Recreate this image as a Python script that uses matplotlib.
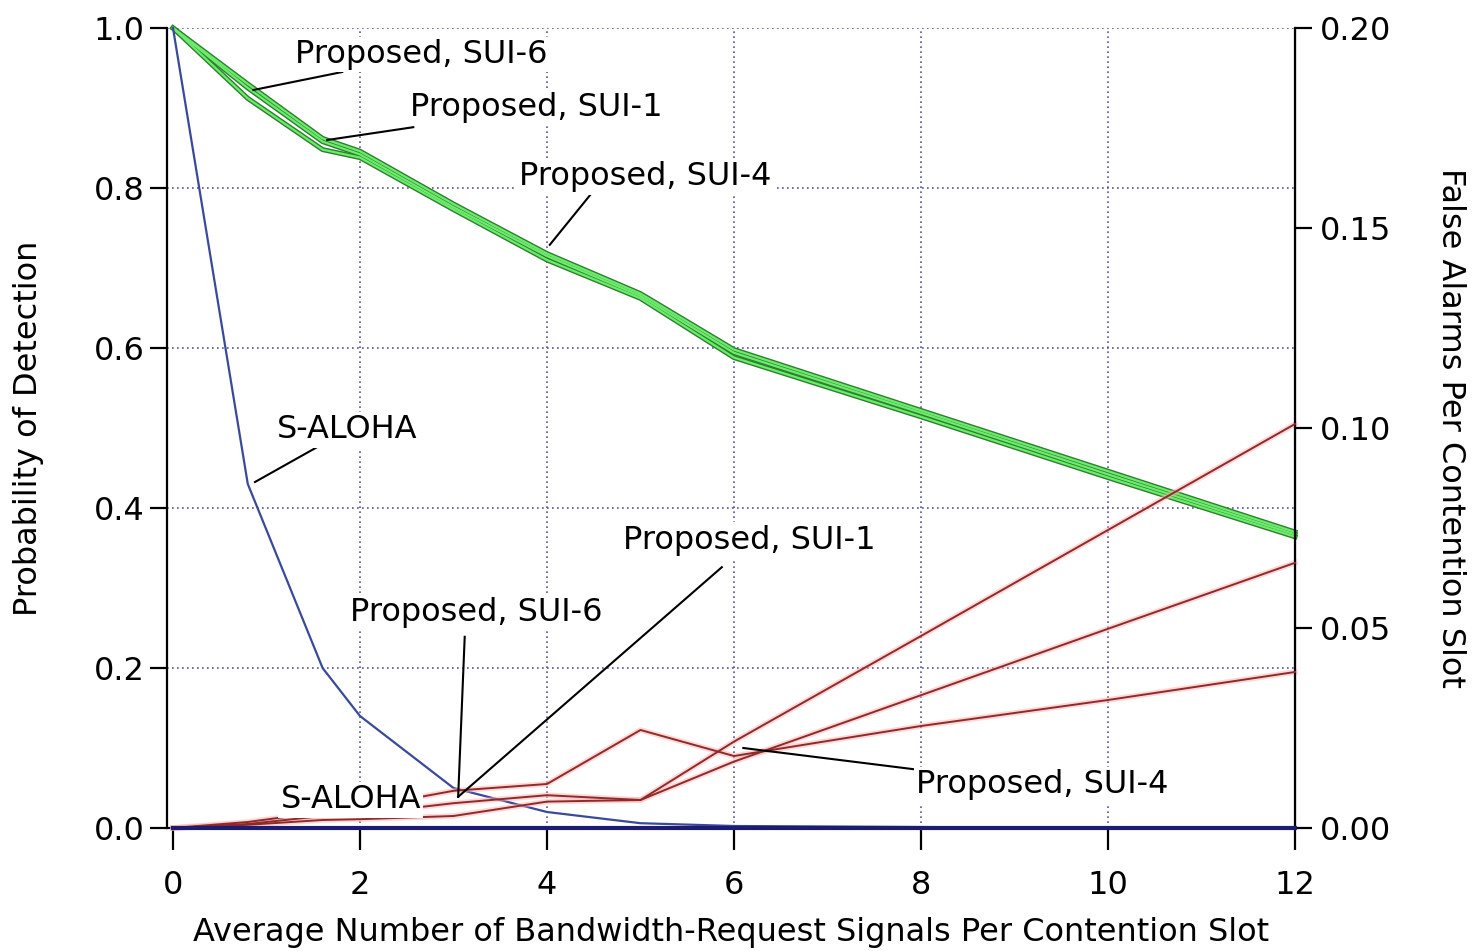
import matplotlib
matplotlib.use("Agg")
import matplotlib.pyplot as plt

# offered load (average number of BR signals per contention slot)
load = [0, 0.8, 1.6, 2, 3, 4, 5, 6, 8, 10, 12]

# probability of detection (left axis)
pd_sui1 = [1.0, 0.930, 0.862, 0.846, 0.780, 0.718, 0.668, 0.598, 0.522, 0.446, 0.370]
pd_sui4 = [1.0, 0.925, 0.858, 0.842, 0.776, 0.715, 0.665, 0.594, 0.519, 0.442, 0.367]
pd_sui6 = [1.0, 0.912, 0.848, 0.838, 0.773, 0.710, 0.662, 0.588, 0.514, 0.438, 0.364]
pd_aloha = [1.0, 0.43, 0.20, 0.14, 0.05, 0.02, 0.006, 0.0025, 0.0012, 0.0, 0.0]

# false alarms per contention slot (right axis)
fa_sui1 = [0, 0.0010, 0.0030, 0.0035, 0.0062, 0.0082, 0.0070, 0.0216, 0.0480, 0.0745, 0.1010]
fa_sui4 = [0, 0.0015, 0.0040, 0.0050, 0.0093, 0.0110, 0.0245, 0.0180, 0.0255, 0.0320, 0.0390]
fa_sui6 = [0, 0.0008, 0.0020, 0.0022, 0.0030, 0.0066, 0.0070, 0.0166, 0.0332, 0.0498, 0.0663]
fa_aloha = [0, 0, 0, 0, 0, 0, 0, 0, 0, 0, 0]

xticks = [0, 2, 4, 6, 8, 10, 12]
left_ticks = [0.0, 0.2, 0.4, 0.6, 0.8, 1.0]
right_ticks = [0.0, 0.05, 0.10, 0.15, 0.20]

plt.rcParams["font.family"] = ["DejaVu Sans"]

fig = plt.figure(figsize=(14.76, 9.51), dpi=100)
fig.patch.set_facecolor("white")
ax = fig.add_axes([167 / 1476, 1 - 828 / 951, (1295 - 167) / 1476, 800 / 951])
ax2 = ax.twinx()

ax.set_xlim(-0.064, 12)
ax.set_ylim(0, 1.0)
ax2.set_ylim(0, 0.20)

# grid
ax.set_axisbelow(True)
for gx in [2, 4, 6, 8, 10]:
    ax.axvline(gx, color="#55559a", lw=1.2, ls=(0, (1, 2)), zorder=0)
for gy in [0.2, 0.4, 0.6, 0.8, 1.0]:
    ax.axhline(gy, color="#55559a", lw=1.2, ls=(0, (1, 2)), zorder=0)

# detection curves
for series in [pd_sui1, pd_sui4, pd_sui6]:
    ax.plot(load, series, color="#2e7f2e", lw=3.6, zorder=3, clip_on=False)
for series in [pd_sui1, pd_sui4, pd_sui6]:
    ax.plot(load, series, color="#6cec6c", lw=1.6, zorder=4, clip_on=False)
ax.plot(load, pd_aloha, color="#3a4a9a", lw=1.6, zorder=5, clip_on=False)

# false alarm curves
for series in [fa_sui1, fa_sui4, fa_sui6]:
    ax2.plot(load, series, color="#ffb0b0", lw=4.0, alpha=0.5, zorder=2, clip_on=False)
for series in [fa_sui1, fa_sui4, fa_sui6]:
    ax2.plot(load, series, color="#8e2a2a", lw=1.4, zorder=3, clip_on=False)
ax2.plot(load, fa_aloha, color="#1c1c72", lw=3.0, zorder=4, clip_on=False)

# spines and ticks
for a in (ax, ax2):
    a.spines["top"].set_visible(False)
    a.patch.set_visible(False)
ax.spines["left"].set_linewidth(1.6)
ax.spines["bottom"].set_linewidth(1.6)
ax2.spines["right"].set_linewidth(1.6)
ax2.spines["left"].set_visible(False)
ax2.spines["bottom"].set_visible(False)

ax.set_xticks(xticks)
ax.set_xticklabels([str(v) for v in xticks])
ax.set_yticks(left_ticks)
ax.set_yticklabels([f"{v:.1f}" for v in left_ticks])
ax2.set_yticks(right_ticks)
ax2.set_yticklabels([f"{v:.2f}" for v in right_ticks])

ax.tick_params(axis="x", direction="out", length=16, width=1.6, labelsize=23, pad=14)
ax.tick_params(axis="y", direction="out", length=12, width=1.6, labelsize=23, pad=4)
ax2.tick_params(axis="y", direction="out", length=12, width=1.6, labelsize=23, pad=6)

ax.set_xlabel("Average Number of Bandwidth-Request Signals Per Contention Slot",
              fontsize=23, labelpad=12)
ax.set_ylabel("Probability of Detection", fontsize=23, labelpad=36)
ax2.set_ylabel("False Alarms Per Contention Slot", fontsize=23, rotation=-90, labelpad=54)

# callouts (positions in left-axis data coordinates)
box = dict(facecolor="white", edgecolor="none", pad=1.5)
callouts = [
    ("Proposed, SUI-6", (2.66, 0.967), (1.81, 0.945), (0.86, 0.9225)),
    ("Proposed, SUI-1", (3.89, 0.900), (2.57, 0.876), (1.65, 0.860)),
    ("Proposed, SUI-4", (5.05, 0.814), (4.46, 0.791), (4.03, 0.729)),
    ("S-ALOHA", (1.86, 0.4975), (1.54, 0.476), (0.877, 0.4325)),
    ("Proposed, SUI-1", (6.16, 0.360), (5.87, 0.326), (3.05, 0.039)),
    ("Proposed, SUI-6", (3.24, 0.269), (3.12, 0.239), (3.05, 0.039)),
    ("Proposed, SUI-4", (9.30, 0.054), (7.99, 0.0725), (6.10, 0.100)),
]
for label, tpos, start, end in callouts:
    ax2.plot([start[0], end[0]], [start[1] * 0.2, end[1] * 0.2], color="black",
             lw=1.5, zorder=6)
    ax2.text(tpos[0], tpos[1] * 0.2, label, fontsize=23, ha="center", va="center",
             bbox=box, zorder=7)
ax2.text(1.90, 0.035 * 0.2, "S-ALOHA", fontsize=23, ha="center", va="center",
         bbox=box, zorder=7)

fig.savefig("out.png", dpi=100, facecolor="white")
